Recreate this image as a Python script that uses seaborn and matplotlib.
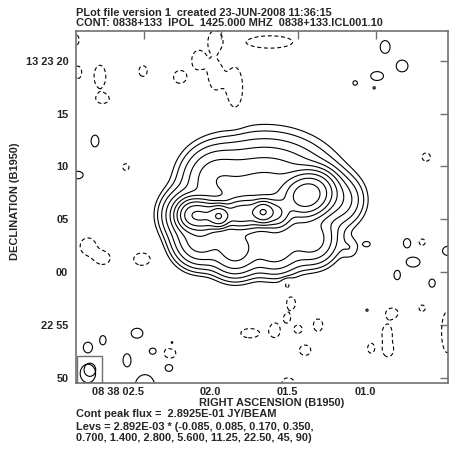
import numpy as np
import matplotlib
matplotlib.use('Agg')
import matplotlib.pyplot as plt
from matplotlib.patches import Ellipse, Rectangle
import seaborn as sns

sns.set_style('white')
plt.rcParams['font.family'] = ['Liberation Sans', 'DejaVu Sans']
plt.rcParams['font.weight'] = 'bold'
plt.rcParams['lines.dashed_pattern'] = [3.5, 2.5]

# contour levels as printed under the plot
peak_flux = 2.8925e-01
lev_unit = 2.892e-03
lev_mult = [-0.085, 0.085, 0.170, 0.350, 0.700, 1.400, 2.800, 5.600, 11.25, 22.50, 45, 90]

# RA in seconds after 08 38 00, Dec in arcsec after 13 22 00 (B1950)
# main source components: peak (Jy/beam), gaussian widths (arcsec), PA (deg)
# knots + jet ridge, right lobe, broad halo, upper-left bulge, lower edge, right edge
src_ra = [2.014, 1.729, 2.183, 2.105, 1.904, 1.820, 1.645, 1.444,
          1.716, 2.040, 2.137, 1.911, 2.215, 1.652, 1.412, 1.243]
src_dec = [65.29, 65.67, 65.39, 65.29, 65.48, 65.58, 65.58, 67.28,
           67.28, 68.89, 63.02, 62.07, 65.39, 62.07, 63.02, 66.81]
src_amp = [0.26, 0.25, 0.10, 0.10, 0.075, 0.075, 0.07, 0.11,
           0.012, 0.005, 0.012, 0.011, 0.008, 0.0055, 0.0055, 0.003]
src_sx = [0.55, 0.55, 0.7, 0.7, 0.7, 0.7, 0.7, 1.15,
          3.0, 1.5, 1.2, 1.2, 1.2, 1.3, 1.2, 1.2]
src_sy = [0.55, 0.55, 0.7, 0.7, 0.7, 0.7, 0.7, 0.95,
          2.4, 1.5, 1.2, 1.2, 1.2, 1.2, 1.2, 1.2]
src_pa = [0, 0, 0, 0, 0, 0, 0, 20, 0, 0, 0, 0, 0, 0, 0, 0]

# positive noise islands (amplitude in units of the lowest level)
pos_ra = [0.939, 0.829, 0.991, 1.133, 1.010, 2.817, 2.927, 1.166, 1.056, 0.797, 0.531, 0.758, 0.861, 0.635,
          1.056, 2.545, 2.766, 2.863, 2.442, 2.610, 2.319, 2.338, 2.494, 2.863]
pos_dec = [81.30, 79.50, 78.55, 77.89, 77.41, 72.40, 69.18, 62.26, 62.64, 62.73, 62.00, 60.94, 59.71, 58.95,
           56.39, 54.21, 53.55, 52.89, 52.51, 51.66, 53.27, 50.99, 49.20, 50.40]
pos_amp = [1.6, 1.6, 1.6, 1.2, 1.05, 1.6, 1.6, 1.6, 1.3, 1.5, 1.6, 1.6, 1.5, 1.5,
           1.1, 1.6, 1.5, 1.6, 1.5, 1.6, 1.4, 1.5, 1.8, 1.6]
pos_sx = [0.48, 0.57, 0.62, 0.35, 0.25, 0.38, 0.5, 0.62, 0.38, 0.38, 0.55, 0.67, 0.33, 0.33,
          0.25, 0.57, 0.33, 0.43, 0.38, 0.38, 0.24, 0.43, 0.85, 0.75]
pos_sy = [0.62, 0.57, 0.43, 0.35, 0.25, 0.57, 0.36, 0.71, 0.29, 0.48, 0.45, 0.48, 0.48, 0.43,
          0.25, 0.48, 0.48, 0.48, 0.33, 0.62, 0.29, 0.43, 1.0, 0.9]

# negative noise islands
neg_ra = [2.863, 2.766, 2.513, 1.574, 1.548, 1.813, 1.652, 1.574, 1.503, 1.373, 1.457, 0.894, 0.926, 0.920,
          1.030, 0.537, 2.332, 1.567, 2.927, 2.785, 2.766, 2.506, 2.267, 2.040, 1.911, 2.040, 2.150,
          1.684, 2.940, 0.673, 2.617, 0.699, 0.699]
neg_dec = [62.45, 61.32, 61.22, 58.85, 57.05, 54.21, 54.50, 55.60, 54.59, 54.97, 52.60, 56.11, 54.21, 52.60,
           52.79, 54.31, 52.31, 49.50, 78.90, 78.50, 76.38, 79.02, 78.46, 78.60, 77.41, 81.96, 80.07,
           81.77, 81.96, 70.88, 69.93, 62.83, 56.58]
neg_sx = [0.75, 0.7, 0.8, 0.33, 0.43, 0.9, 0.5, 0.3, 0.4, 0.45, 0.55, 0.57, 0.48, 0.48,
          0.33, 0.55, 0.57, 0.6, 0.35, 0.57, 0.57, 0.4, 0.62, 0.62, 0.75, 0.6, 0.6,
          2.2, 0.3, 0.4, 0.3, 0.3, 0.3]
neg_sy = [0.8, 0.6, 0.6, 0.4, 0.62, 0.45, 0.7, 0.4, 0.4, 0.6, 0.5, 0.48, 0.8, 0.62,
          0.48, 2.0, 0.57, 0.5, 0.6, 1.1, 0.4, 0.52, 0.62, 1.3, 2.0, 0.9, 0.9,
          0.6, 0.5, 0.4, 0.33, 0.3, 0.3]

x_ticks = [2.5, 2.0, 1.5, 1.0]
x_labels = ['08 38 02.5', '02.0', '01.5', '01.0']
y_ticks = [80, 75, 70, 65, 60, 55, 50]
y_labels = ['13 23 20', '15', '10', '05', '00', '22 55', '50']

cosd = np.cos(np.radians(13.39))
ra_grid = np.linspace(2.96, 0.51, 520)
dec_grid = np.linspace(49.3, 83.0, 480)
RA, DEC = np.meshgrid(ra_grid, dec_grid)


def gauss(ra0, dec0, amp, sx, sy, pa=0):
    dx = (ra0 - RA) * 15 * cosd
    dy = DEC - dec0
    t = np.radians(pa)
    u = dx * np.cos(t) + dy * np.sin(t)
    v = -dx * np.sin(t) + dy * np.cos(t)
    return amp * np.exp(-0.5 * ((u / sx) ** 2 + (v / sy) ** 2))


base = lev_unit * lev_mult[1]
Z = np.zeros_like(RA)
for i in range(len(src_ra)):
    Z += gauss(src_ra[i], src_dec[i], src_amp[i], src_sx[i], src_sy[i], src_pa[i])
for i in range(len(pos_ra)):
    Z += gauss(pos_ra[i], pos_dec[i], pos_amp[i] * base, pos_sx[i], pos_sy[i])
for i in range(len(neg_ra)):
    Z -= gauss(neg_ra[i], neg_dec[i], 1.6 * base, neg_sx[i], neg_sy[i])

W, H = 459, 450
fig = plt.figure(figsize=(W / 100, H / 100), dpi=100)
ax = fig.add_axes([76 / W, 1 - 383.3 / H, (448.3 - 76) / W, (383.3 - 31) / H])

levels = np.array(lev_mult) * lev_unit
ax.contour(RA, DEC, Z, levels=levels, colors='black', linewidths=0.8,
           linestyles=['dashed'] + ['solid'] * (len(levels) - 1))

# beam in the lower left corner
ax.add_patch(Rectangle((2.935, 49.47), -0.162, 2.57, fill=False, ec='#707070', lw=1.0))
ax.add_patch(Ellipse((2.850, 50.75), 1.1 / (15 * cosd), 1.25, fill=False, ec='black', lw=0.8))

ax.set_xlim(2.940, 0.530)
ax.set_ylim(49.47, 82.81)
ax.set_xticks(x_ticks)
ax.set_xticklabels(x_labels, ha='right')
ax.set_yticks(y_ticks)
ax.set_yticklabels(y_labels)
fs = 7.9
ax.tick_params(direction='in', length=6, width=1.0, color='#707070', top=True, right=True,
               labelsize=fs, pad=3)
ax.tick_params(axis='y', pad=5.5)
for s in ax.spines.values():
    s.set_color('#707070')
    s.set_linewidth(1.2)

fig.text(76 / W, 1 - 13 / H, 'PLot file version 1  created 23-JUN-2008 11:36:15', fontsize=fs, va='center')
fig.text(76 / W, 1 - 23.5 / H, 'CONT: 0838+133  IPOL  1425.000 MHZ  0838+133.ICL001.10', fontsize=fs, va='center')
fig.text(272 / W, 1 - 403 / H, 'RIGHT ASCENSION (B1950)', fontsize=fs, ha='center', va='center')
fig.text(15 / W, 1 - 201 / H, 'DECLINATION (B1950)', fontsize=fs, ha='center', va='center', rotation=90)
fig.text(76 / W, 1 - 414 / H, 'Cont peak flux =  %.4E JY/BEAM' % peak_flux, fontsize=fs, va='center')
fig.text(76 / W, 1 - 426.5 / H, 'Levs = %.3E * (-0.085, 0.085, 0.170, 0.350,' % lev_unit, fontsize=fs, va='center')
fig.text(76 / W, 1 - 438 / H, '0.700, 1.400, 2.800, 5.600, 11.25, 22.50, 45, 90)', fontsize=fs, va='center')

fig.savefig('out.png', dpi=100)
